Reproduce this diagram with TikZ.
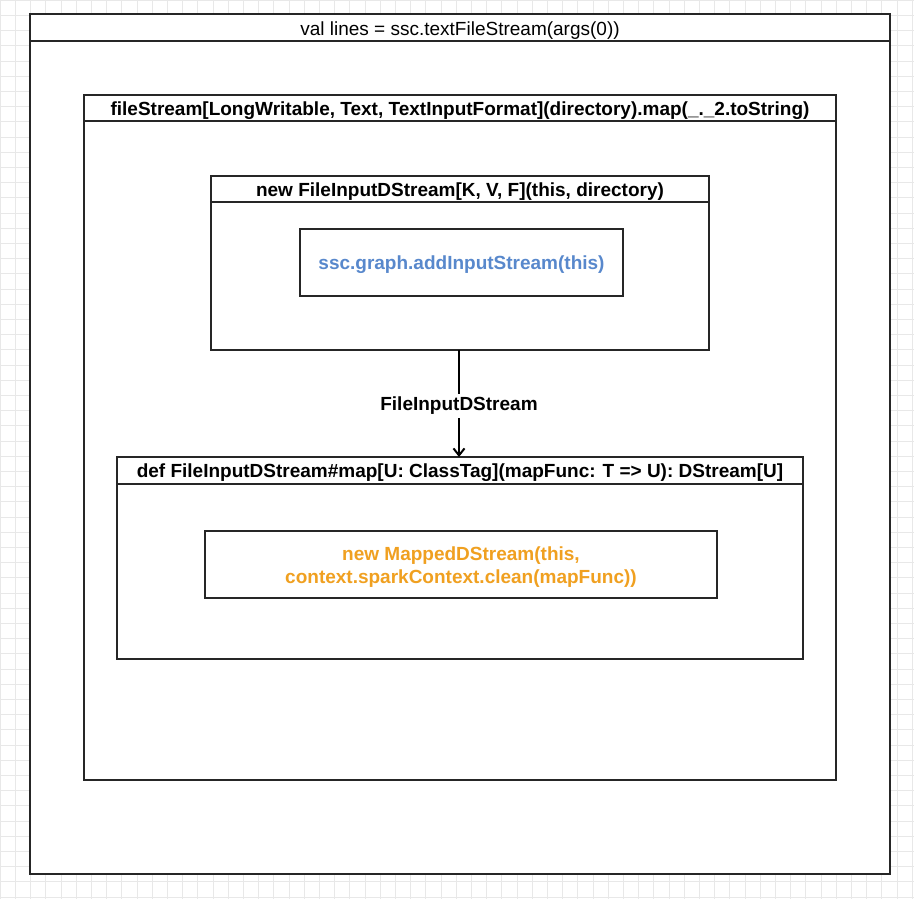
\documentclass[tikz,border=0pt]{standalone}
\usepackage{fontspec}
\setmainfont{Liberation Sans}
\usetikzlibrary{arrows.meta}
\definecolor{gridc}{RGB}{232,232,232}
\definecolor{bluetxt}{RGB}{88,136,204}
\definecolor{orangetxt}{RGB}{240,160,32}
\begin{document}
\begin{tikzpicture}[x=1pt,y=-1pt,
  frame/.style={draw=black!85, line width=1.3pt, fill=white, inner sep=0pt, outer sep=0pt, anchor=north west},
  hdr/.style={draw=none, inner sep=0pt, anchor=center, yshift=-2.5pt, font=\fontsize{19}{23}\selectfont},
  bhdr/.style={hdr, font=\fontsize{19}{23}\selectfont\bfseries},
  hdrline/.style={draw=black!85, line width=1.3pt}
]
\useasboundingbox (0,0) rectangle (914,899);
\fill[white] (0,0) rectangle (914,899);
\draw[gridc, line width=0.5pt, step=15.2pt] (0,0) grid (914,899);

% outer box
\node[frame, minimum width=860pt, minimum height=860pt] (outer) at (30,14) {};
\draw[hdrline] (30,41) -- (890,41);
\node[hdr] (outerT) at (460,28) {val lines = ssc.textFileStream(args(0))};

% fileStream box
\node[frame, minimum width=752pt, minimum height=685pt] (fs) at (84,95) {};
\draw[hdrline] (84,121) -- (836,121);
\node[bhdr] (fsT) at (460,108) {fileStream[LongWritable, Text, TextInputFormat](directory).map(\_.\_2.toString)};

% FileInputDStream box
\node[frame, minimum width=498pt, minimum height=174pt] (fid) at (211,176) {};
\draw[hdrline] (211,202) -- (709,202);
\node[bhdr] (fidT) at (460,189) {new FileInputDStream[K, V, F](this, directory)};
\node[frame, minimum width=323pt, minimum height=67pt] (add) at (300,229) {};
\node[bhdr, text=bluetxt] (addT) at (add.center) {ssc.graph.addInputStream(this)};

% map box
\node[frame, minimum width=686pt, minimum height=202pt] (map) at (117,457) {};
\draw[hdrline] (117,484) -- (803,484);
\node[bhdr] (mapT) at (460,470) {def FileInputDStream\#map[U: ClassTag](mapFunc: T => U): DStream[U]};
\node[frame, minimum width=512pt, minimum height=67pt] (mds) at (205,531) {};
\node[bhdr, text=orangetxt, align=center] (mdsT) at (mds.center) {new MappedDStream(this,\\context.sparkContext.clean(mapFunc))};

% connector
\draw[line width=2pt, -{Straight Barb[length=7pt,width=11pt]}] (fid.south -| 459,0) -- node[fill=white, inner sep=3pt, yshift=-2.5pt, font=\fontsize{19}{23}\selectfont\bfseries, pos=0.5] (lbl) {FileInputDStream} (map.north -| 459,0);
\end{tikzpicture}
\end{document}
